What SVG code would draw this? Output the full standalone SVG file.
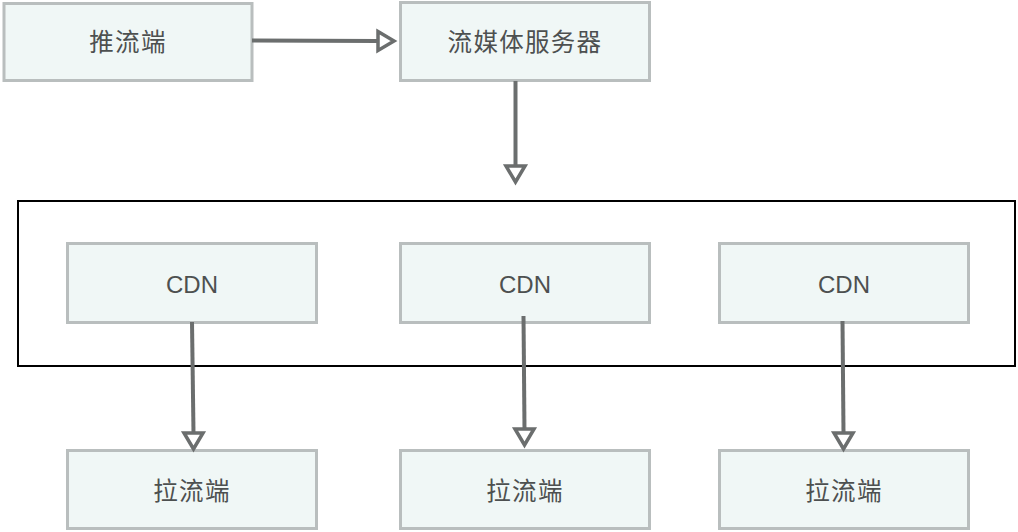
<svg xmlns="http://www.w3.org/2000/svg" width="1018" height="532" viewBox="0 0 1018 532">
<style>
.box{fill:#f0f7f6;stroke:#b9bebe;stroke-width:3}
.cj{font-family:"Noto Sans CJK SC","Noto Sans",sans-serif;font-size:24.5px;fill:#4d5050;text-anchor:middle;dominant-baseline:central;letter-spacing:1.3px}
.en{font-family:"Liberation Sans",Arial,sans-serif;font-size:24px;fill:#4d5050;text-anchor:middle}
.ln{stroke:#6b6e6e;stroke-width:4;fill:none}
.hd{stroke:#6b6e6e;stroke-width:3.5;fill:#ffffff;stroke-linejoin:miter}
</style>
<rect x="0" y="0" width="1018" height="532" fill="#ffffff"/>
<rect id="cdn-group" x="18" y="201" width="997" height="165" fill="none" stroke="#000000" stroke-width="2"/>
<g id="push">
<rect class="box" x="4" y="3.5" width="248" height="77"/>
<text class="cj" x="128" y="40.5">推流端</text>
</g>
<g id="server">
<rect class="box" x="400.5" y="2.5" width="249" height="78"/>
<text class="cj" x="525" y="40.5">流媒体服务器</text>
</g>
<g id="cdn1">
<rect class="box" x="67.5" y="243.5" width="249" height="79"/>
<text class="en" x="192" y="292.5">CDN</text>
</g>
<g id="cdn2">
<rect class="box" x="400.5" y="243.5" width="249" height="79"/>
<text class="en" x="525" y="292.5">CDN</text>
</g>
<g id="cdn3">
<rect class="box" x="719.5" y="243.5" width="249" height="79"/>
<text class="en" x="844" y="292.5">CDN</text>
</g>
<g id="pull1">
<rect class="box" x="67.5" y="450.5" width="249" height="78"/>
<text class="cj" x="192" y="489">拉流端</text>
</g>
<g id="pull2">
<rect class="box" x="400.5" y="450.5" width="249" height="78"/>
<text class="cj" x="525" y="489">拉流端</text>
</g>
<g id="pull3">
<rect class="box" x="719.5" y="450.5" width="249" height="78"/>
<text class="cj" x="844" y="489">拉流端</text>
</g>
<g id="connectors">
<line class="ln" x1="252" y1="40.5" x2="378" y2="41"/>
<polygon class="hd" points="378,31.5 394,41 378,50.5"/>
<line class="ln" x1="515.5" y1="81" x2="515.5" y2="166"/>
<polygon class="hd" points="506,166 525,166 515.5,182"/>
<line class="ln" x1="192" y1="322" x2="193.5" y2="433"/>
<polygon class="hd" points="184,433 203,433 193.5,449"/>
<line class="ln" x1="523.5" y1="316" x2="524.5" y2="429"/>
<polygon class="hd" points="515,429 534,429 524.5,445"/>
<line class="ln" x1="842.5" y1="321" x2="843.5" y2="433"/>
<polygon class="hd" points="834,433 853,433 843.5,449"/>
</g>
</svg>
